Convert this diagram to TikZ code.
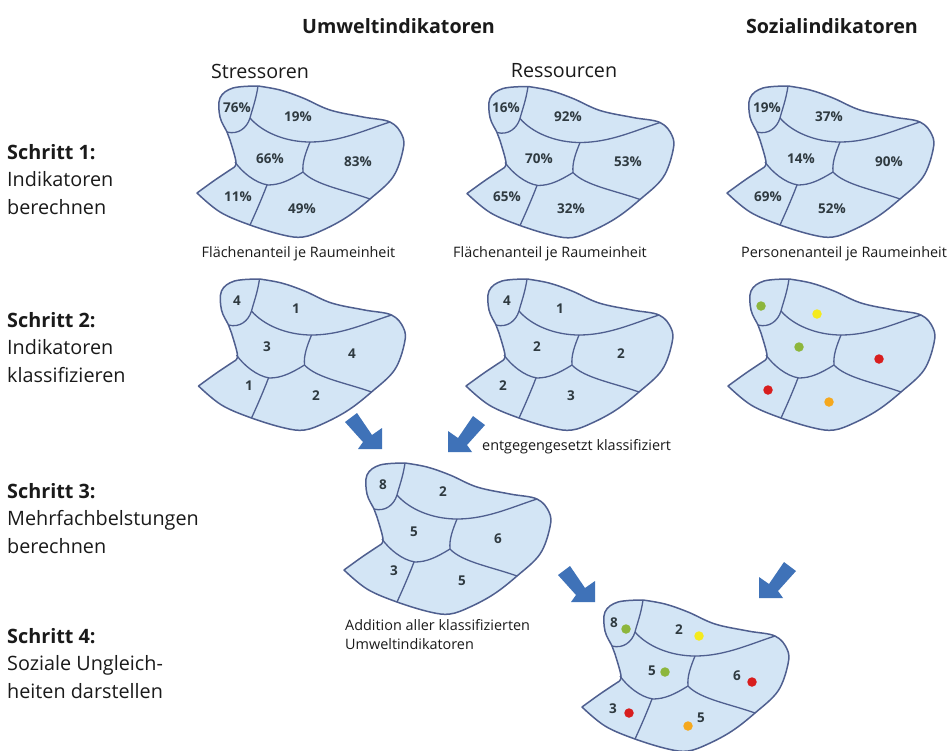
\documentclass[tikz,border=0pt]{standalone}
\usepackage{fontspec}
\setmainfont{Open Sans}
\definecolor{mapfill}{HTML}{D3E5F5}
\definecolor{mapline}{HTML}{4F5F8F}
\definecolor{arrowblue}{HTML}{3F72B8}
\definecolor{txt}{HTML}{1A1A1A}
\definecolor{num}{HTML}{2F3A40}
\definecolor{dgreen}{HTML}{8DB63C}
\definecolor{dyellow}{HTML}{F4EA1E}
\definecolor{dred}{HTML}{D81E1E}
\definecolor{dorange}{HTML}{F5A81E}
\newcommand{\mapshape}[2]{%
\begin{scope}[shift={(#1,#2)}]
\path[fill=mapfill,draw=mapline,line width=1.5pt,line join=round]
 plot[smooth,tension=0.6] coordinates {(258,86)(280,90)(303,98)(330,110)(363,117)(390,122)(402,135)(403,150)(393,177)(370,199)(347,217)(323,230)(303,237)(283,235)(250,225)(220,212)(197,193)}
 -- plot[smooth,tension=0.5] coordinates {(197,193)(215,180)(233,168)}
 -- plot[smooth,tension=0.6] coordinates {(233,168)(236,162)(230,140)(227,132)(220,117)(220,98)(233,88)(258,86)}
 -- cycle;
\draw[mapline,line width=1.3pt] (258,86) .. controls (256,100) and (252,110) .. (250,118) .. controls (247,128) and (238,135) .. (227,132);
\draw[mapline,line width=1.3pt] (250,118) .. controls (262,132) and (285,142) .. (310,142) .. controls (340,142) and (365,130) .. (390,122);
\draw[mapline,line width=1.3pt] (310,142) .. controls (306,152) and (302,162) .. (303,172) .. controls (315,185) and (345,190) .. (370,199);
\draw[mapline,line width=1.3pt] (303,172) .. controls (290,180) and (280,185) .. (268,185) .. controls (255,183) and (242,172) .. (235,162);
\draw[mapline,line width=1.3pt] (267,185) .. controls (262,198) and (256,212) .. (250,225);
\end{scope}}
\newcommand{\blockarr}[3]{% tip x, tip y, mirrored sign
\begin{scope}[shift={(#1,#2)},xscale=#3]
\fill[blockarrow] (-37,-27) -- (-25,-36) -- (-10,-14) -- (0,-21) -- (0,0) -- (-24,0) -- (-19,-7) -- cycle;
\end{scope}}
\tikzset{
 head/.style={font=\bfseries\fontsize{19.7}{24}\selectfont,text=txt,inner sep=0pt},
 sub/.style={font=\fontsize{19.7}{24}\selectfont,text=txt,inner sep=0pt},
 stepl/.style={font=\fontsize{19.8}{27.4}\selectfont,text=txt,inner sep=0pt,anchor=north west,align=left},
 capt/.style={font=\fontsize{14.4}{19}\selectfont,text=txt,inner sep=0pt,anchor=west,align=left},
 numl/.style={font=\bfseries\fontsize{13.5}{15}\selectfont,text=num,inner sep=0pt},
 blockarrow/.style={fill=arrowblue,draw=none},
 dotg/.style={circle,inner sep=0pt,minimum size=9.5pt,fill=#1},
}
\begin{document}
\begin{tikzpicture}[x=1pt,y=-1pt]
\useasboundingbox (0,0) rectangle (947,750);
\fill[white] (0,0) rectangle (947,750);
% headers
\node[head] (h1) at (398.5,26) {Umweltindikatoren};
\node[head] (h2) at (832,26) {Sozialindikatoren};
\node[sub] (s1) at (260,71) {Stressoren};
\node[sub] (s2) at (564,71) {Ressourcen};
% steps
\node[stepl] (st1) at (7,144) {\textbf{Schritt 1:}\\Indikatoren\\berechnen};
\node[stepl] (st2) at (7,312) {\textbf{Schritt 2:}\\Indikatoren\\klassifizieren};
\node[stepl] (st3) at (7,483) {\textbf{Schritt 3:}\\Mehrfachbelstungen\\berechnen};
\node[stepl] (st4) at (7,628) {\textbf{Schritt 4:}\\Soziale Ungleich-\\heiten darstellen};
% maps
\mapshape{0}{0}
\mapshape{270}{0.5}
\mapshape{530}{0}
\mapshape{1.5}{193}
\mapshape{269}{193}
\mapshape{531}{193}
\mapshape{147}{377}
\mapshape{385}{514}
% row 1
\foreach \t/\x/\y in {76\%/237/108,19\%/298/117,66\%/270/159,83\%/358/162,11\%/238/197,49\%/302/209}
  \node[numl] at (\x,\y) {\t};
\foreach \t/\x/\y in {16\%/506/108,92\%/568/117,70\%/539/159,53\%/628/162,65\%/507/197,32\%/571/209}
  \node[numl] at (\x,\y) {\t};
\foreach \t/\x/\y in {19\%/767/108,37\%/829/117,14\%/801/159,90\%/889/162,69\%/768/197,52\%/832/209}
  \node[numl] at (\x,\y) {\t};
\node[capt,anchor=center] (c1) at (298.5,254) {Flächenanteil je Raumeinheit};
\node[capt,anchor=center] (c2) at (550,254) {Flächenanteil je Raumeinheit};
\node[capt,anchor=center] (c3) at (844,254) {Personenanteil je Raumeinheit};
% row 2
\foreach \t/\x/\y in {4/237/301,1/296/309,3/267/347,4/352/354,1/249/386,2/316/396}
  \node[numl] at (\x,\y) {\t};
\foreach \t/\x/\y in {4/507/301,1/560/309,2/537/347,2/621/354,2/503/386,3/571/396}
  \node[numl] at (\x,\y) {\t};
\foreach \c/\x/\y in {dgreen/761/306,dyellow/817/314,dgreen/799/347,dred/879/359,dred/768/390,dorange/829/402}
  \node[dotg=\c] at (\x,\y) {};
\node[capt] (c4) at (482,447) {entgegengesetzt klassifiziert};
% row 3
\foreach \t/\x/\y in {8/383/485,2/443/492,5/414/532,6/498/539,3/394/571,5/462/581}
  \node[numl] at (\x,\y) {\t};
\node[capt,anchor=north west] (c5) at (345,619) {Addition aller klassifizierten\\Umweltindikatoren};
% row 4
\foreach \t/\x/\y in {8/614/623,2/679/630,5/652/671,6/737/676,3/613/709,5/701/718}
  \node[numl] at (\x,\y) {\t};
\foreach \c/\x/\y in {dgreen/626/629,dyellow/699/636,dgreen/665/672,dred/752/682,dred/629/713,dorange/688/726}
  \node[dotg=\c] at (\x,\y) {};
% arrows
\blockarr{382}{449}{1}
\blockarr{448}{452}{-1}
\blockarr{595}{602}{1}
\blockarr{759}{598}{-1}
\end{tikzpicture}
\end{document}
